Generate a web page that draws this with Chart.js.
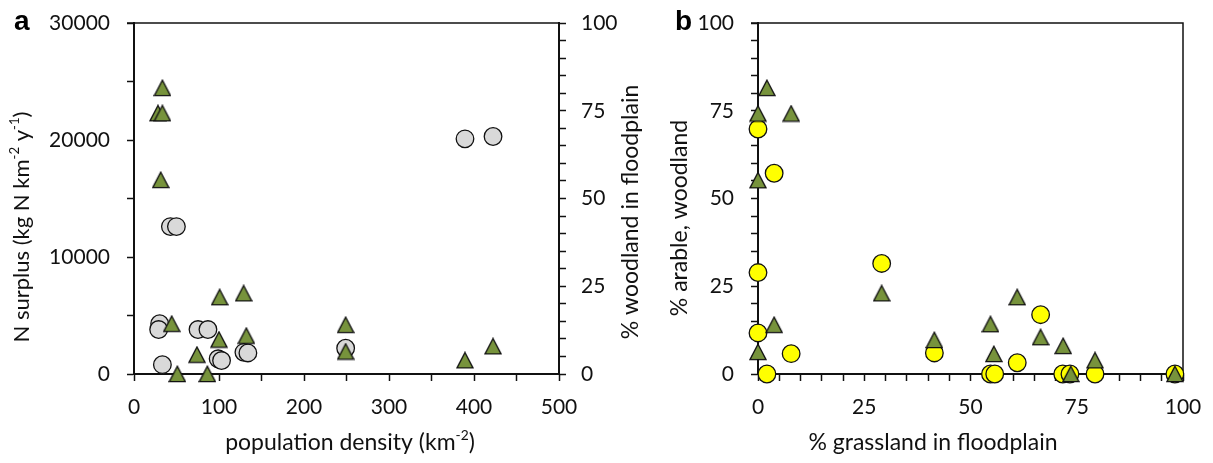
<!DOCTYPE html>
<html>
<head>
<meta charset="utf-8">
<script src="https://cdn.jsdelivr.net/npm/chart.js@4/dist/chart.umd.min.js"></script>
<style>
  html, body { margin: 0; padding: 0; background: #fff; }
  body { width: 1213px; height: 463px; position: relative; overflow: hidden; }
  canvas { position: absolute; top: 0; }
  #chartA { left: 0; }
  #chartB { left: 660px; }
</style>
</head>
<body>
<canvas id="chartA" width="660" height="463"></canvas>
<canvas id="chartB" width="553" height="463"></canvas>
<script>
// panel a: N surplus (left axis) and % woodland (right axis) against population density
const aDensityN = [30.2, 29, 33.4, 42.8, 49.9, 75.3, 87, 99, 103, 129.3, 134, 249, 389.4, 422.4];
const aNSurplus = [4300, 3800, 800, 12600, 12600, 3800, 3800, 1300, 1150, 1850, 1800, 2200, 20100, 20300];
const aDensityW = [33.4, 28.2, 33.4, 31.4, 44.4, 100.8, 129, 100, 132.2, 74.1, 51, 86.3, 249, 249, 389.4, 422.4];
const aWoodland = [81.5, 74.3, 74.3, 55.3, 14.3, 21.9, 23.0, 9.8, 10.9, 5.5, 0, 0, 14.0, 6.4, 3.9, 7.9];

// panel b: % arable and % woodland against % grassland
const bGrassA = [0, 3.8, 0, 29.1, 0, 7.8, 2.1, 41.5, 66.5, 61.0, 54.7, 55.7, 71.7, 73.4, 79.3, 98.1];
const bArable = [69.8, 57.2, 28.9, 31.5, 11.7, 5.8, 0, 6.0, 16.9, 3.2, 0, 0, 0, 0, 0, 0];
const bGrassW = [2.1, 0, 7.8, 0, 29.1, 3.8, 0, 41.5, 61.0, 54.7, 66.5, 71.8, 55.5, 79.3, 73.6, 98.1];
const bWoodland = [81.5, 74.2, 74.2, 55.2, 23.0, 14.0, 6.3, 9.7, 21.9, 14.2, 10.5, 8.0, 5.7, 3.9, 0, 0];

const FONT = 'Lato, "Open Sans", sans-serif';
const INK = '#111';

const pts = (xs, ys) => xs.map((x, i) => ({x, y: ys[i]}));

// triangle marker centred on its bounding box, like the spreadsheet markers
function triangleSprite() {
  const c = document.createElement('canvas');
  c.width = 18; c.height = 18;
  const g = c.getContext('2d');
  g.beginPath();
  g.moveTo(9, 1.2);
  g.lineTo(17, 16.6);
  g.lineTo(1, 16.6);
  g.closePath();
  g.fillStyle = '#77933c';
  g.fill();
  g.lineWidth = 1.3;
  g.strokeStyle = '#111';
  g.stroke();
  return c;
}
const tri = triangleSprite();

function axis(pos, min, max, step, every, fit, pad) {
  return {
    type: 'linear', position: pos, min, max,
    afterFit: s => {
      if (pos === 'bottom') s.height = fit; else s.width = fit;
      // keep the plot box where we put it, whatever the label overhang
      s.paddingTop = 0; s.paddingBottom = 0; s.paddingLeft = 0; s.paddingRight = 0;
    },
    border: {display: true, color: '#111', width: 2},
    grid: {display: true, drawOnChartArea: false, drawTicks: true, tickLength: 7, tickColor: '#111', tickWidth: 1.5},
    ticks: {
      stepSize: step, autoSkip: false, maxRotation: 0, padding: pad,
      color: INK, font: {family: FONT, size: 21},
      callback: v => (v % every === 0 ? String(v) : '')
    }
  };
}

// rich text with superscripts, centred at (x, y)
function drawRich(ctx, segs, x, y, rot, size) {
  ctx.save();
  ctx.translate(x, y);
  ctx.rotate(rot);
  ctx.fillStyle = INK;
  ctx.textBaseline = 'middle';
  ctx.textAlign = 'left';
  let total = 0;
  segs.forEach(s => {
    ctx.font = (s.sup ? size * 0.6 : size) + 'px ' + FONT;
    s.w = ctx.measureText(s.t).width;
    total += s.w;
  });
  let cx = -total / 2;
  segs.forEach(s => {
    ctx.font = (s.sup ? size * 0.6 : size) + 'px ' + FONT;
    ctx.fillText(s.t, cx, s.sup ? -size * 0.32 : 0);
    cx += s.w;
  });
  ctx.restore();
}

const frame = {
  id: 'frame',
  beforeDatasetsDraw(chart, args, opts) {
    const {ctx, chartArea: a} = chart;
    ctx.save();
    ctx.strokeStyle = '#111';
    ctx.lineWidth = 1.5;
    ctx.beginPath();
    ctx.moveTo(a.left - 7, a.top);
    ctx.lineTo(a.right, a.top);
    if (opts.right) {
      ctx.lineTo(a.right, a.bottom);
    }
    ctx.stroke();
    ctx.restore();
  },
  afterDraw(chart, args, opts) {
    const ctx = chart.ctx;
    (opts.titles || []).forEach(t => drawRich(ctx, t.segs, t.x, t.y, t.rot, t.size));
    ctx.save();
    ctx.fillStyle = '#000';
    ctx.font = 'bold 28px "Liberation Sans", Arial, sans-serif';
    ctx.textBaseline = 'alphabetic';
    ctx.fillText(opts.letter, opts.lx, 30);
    ctx.restore();
  }
};

const common = {
  responsive: false,
  animation: false,
  events: [],
  plugins: {legend: {display: false}, tooltip: {enabled: false}}
};

new Chart(document.getElementById('chartA'), {
  type: 'scatter',
  data: {
    datasets: [
      {label: '% woodland in floodplain', data: pts(aDensityW, aWoodland), yAxisID: 'y2',
       pointStyle: tri, pointRadius: 9, clip: false},
      {label: 'N surplus', data: pts(aDensityN, aNSurplus), yAxisID: 'y',
       pointStyle: 'circle', pointRadius: 8.8, backgroundColor: '#d9d9d9', borderColor: '#111',
       borderWidth: 1.3, clip: false}
    ]
  },
  options: {
    ...common,
    layout: {padding: {top: 23, left: 0, right: 0, bottom: 0}},
    scales: {
      x: axis('bottom', 0, 500, 50, 100, 89, 14),
      y: axis('left', 0, 30000, 5000, 10000, 134, 17),
      y2: axis('right', 0, 100, 5, 25, 101, 15)
    },
    plugins: {
      ...common.plugins,
      frame: {
        letter: 'a', lx: 14,
        titles: [
          {segs: [{t: 'N surplus (kg N km'}, {t: '-2', sup: true}, {t: ' y'}, {t: '-1', sup: true}, {t: ')'}], x: 22, y: 227, rot: -Math.PI / 2, size: 22},
          {segs: [{t: '% woodland in floodplain'}], x: 631, y: 212, rot: -Math.PI / 2, size: 23},
          {segs: [{t: 'population density (km'}, {t: '-2', sup: true}, {t: ')'}], x: 350, y: 443, rot: 0, size: 23}
        ]
      }
    }
  },
  plugins: [frame]
});

new Chart(document.getElementById('chartB'), {
  type: 'scatter',
  data: {
    datasets: [
      {label: 'woodland', data: pts(bGrassW, bWoodland),
       pointStyle: tri, pointRadius: 9, clip: false},
      {label: 'arable', data: pts(bGrassA, bArable),
       pointStyle: 'circle', pointRadius: 8.8, backgroundColor: '#ffff00', borderColor: '#111',
       borderWidth: 1.3, clip: false}
    ]
  },
  options: {
    ...common,
    layout: {padding: {top: 23, left: 0, right: 30, bottom: 0}},
    scales: {
      x: axis('bottom', 0, 100, 5, 25, 89, 14),
      y: axis('left', 0, 100, 5, 25, 98, 17)
    },
    plugins: {
      ...common.plugins,
      frame: {
        letter: 'b', lx: 15, right: true,
        titles: [
          {segs: [{t: '% arable, woodland'}], x: 20, y: 218, rot: -Math.PI / 2, size: 23},
          {segs: [{t: '% grassland in floodplain'}], x: 273, y: 443, rot: 0, size: 23}
        ]
      }
    }
  },
  plugins: [frame]
});
</script>
</body>
</html>
